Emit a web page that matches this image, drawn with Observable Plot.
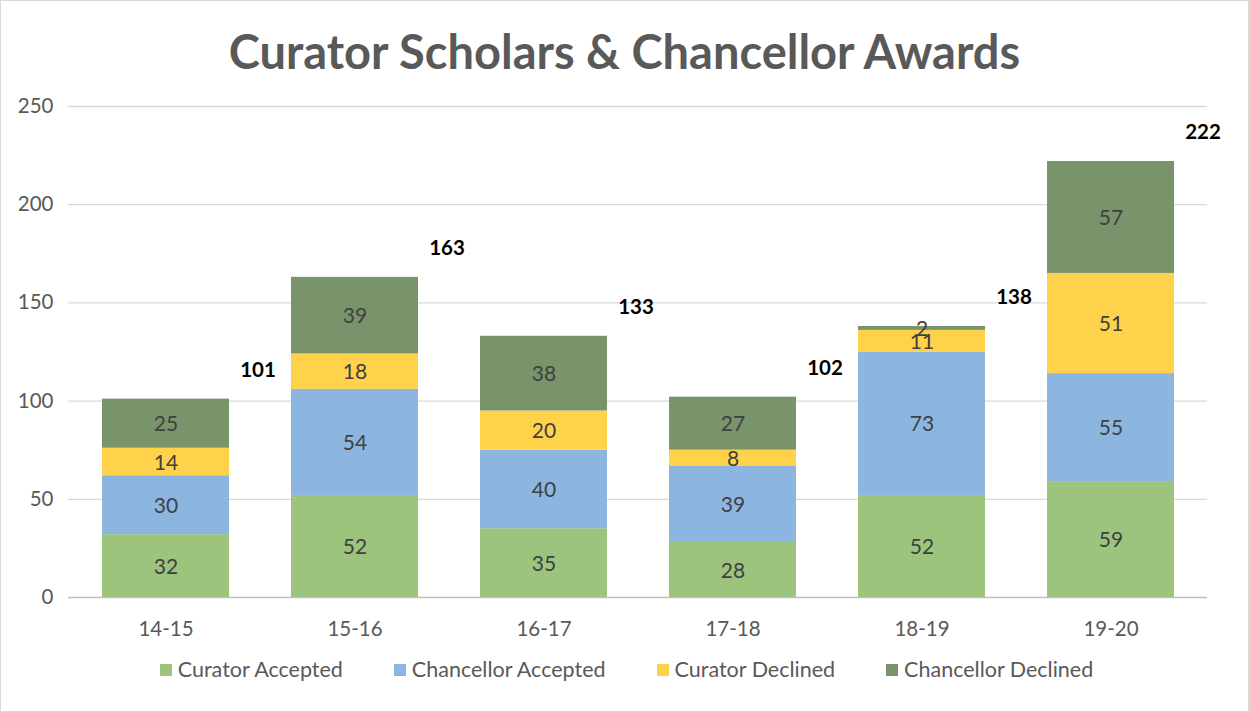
<!DOCTYPE html>
<html><head><meta charset="utf-8">
<script src="https://cdn.jsdelivr.net/npm/d3@7"></script>
<script src="https://cdn.jsdelivr.net/npm/@observablehq/plot@0.6"></script>
<style>
html,body{margin:0;padding:0;background:#fff;}
#wrap{position:relative;width:1247px;height:710px;border:1px solid #d9d9d9;font-family:Lato,"Open Sans",sans-serif;overflow:hidden;}
#title{height:80px;line-height:100px;text-align:center;font-size:47px;font-weight:bold;color:#595959;}
#legend{display:flex;justify-content:center;gap:51px;font-size:21.5px;color:#595959;margin-top:16px;padding-left:4px;}
#legend span.sw{display:inline-block;width:12px;height:12px;margin-right:6px;vertical-align:middle;position:relative;top:-2px;}
</style></head>
<body><div id="wrap"><div id="title">Curator Scholars &amp; Chancellor Awards</div><div id="chart"></div><div id="legend"></div></div>
<script>
const categories = ["14-15","15-16","16-17","17-18","18-19","19-20"];
const series = ["Curator Accepted","Chancellor Accepted","Curator Declined","Chancellor Declined"];
const curatorAccepted = [32,52,35,28,52,59];
const chancellorAccepted = [30,54,40,39,73,55];
const curatorDeclined = [14,18,20,8,11,51];
const chancellorDeclined = [25,39,38,27,2,57];
const totals = [101,163,133,102,138,222];
const colors = ["#9cc47d","#8cb6e0","#fed24b","#79946a"];
const yTicks = [0,50,100,150,200,250];

const valuesBySeries = [curatorAccepted, chancellorAccepted, curatorDeclined, chancellorDeclined];
const rows = [];
categories.forEach((c,i)=>series.forEach((s,j)=>rows.push({cat:c, series:s, value:valuesBySeries[j][i]})));
const totalRows = categories.map((c,i)=>({cat:c, total:totals[i]}));

const chart = Plot.plot({
  width:1247, height:559,
  marginTop:25, marginBottom:43, marginLeft:67, marginRight:41,
  style:{fontFamily:"Lato, 'Open Sans', sans-serif", fontSize:"20.5px", color:"#595959", background:"transparent"},
  x:{domain:categories, paddingInner:0.33, paddingOuter:0.165, label:null, tickSize:0, tickPadding:24},
  y:{domain:[0,250], ticks:yTicks, label:null, tickSize:0, tickPadding:15},
  color:{domain:series, range:colors},
  marks:[
    Plot.gridY(yTicks.filter(d=>d>0), {stroke:"#d9d9d9", strokeOpacity:1, strokeWidth:1.3}),
    Plot.barY(rows, {x:"cat", y:"value", fill:"series", order:series}),
    Plot.text(rows, Plot.stackY({x:"cat", y:"value", z:"series", order:series, text:"value", fill:"#404040", fontSize:21, dy:1})),
    Plot.ruleY([0], {stroke:"#bfbfbf", strokeWidth:1.5}),
    Plot.text(totalRows, {x:"cat", y:"total", text:"total", dx:92, dy:-29, fontWeight:"bold", fontSize:20.5, fill:"#000"})
  ]
});
document.getElementById("chart").appendChild(chart);
const leg = document.getElementById("legend");
series.forEach((s,i)=>{
  const d = document.createElement("div");
  d.innerHTML = `<span class="sw" style="background:${colors[i]}"></span>${s}`;
  leg.appendChild(d);
});
</script>
</body></html>
